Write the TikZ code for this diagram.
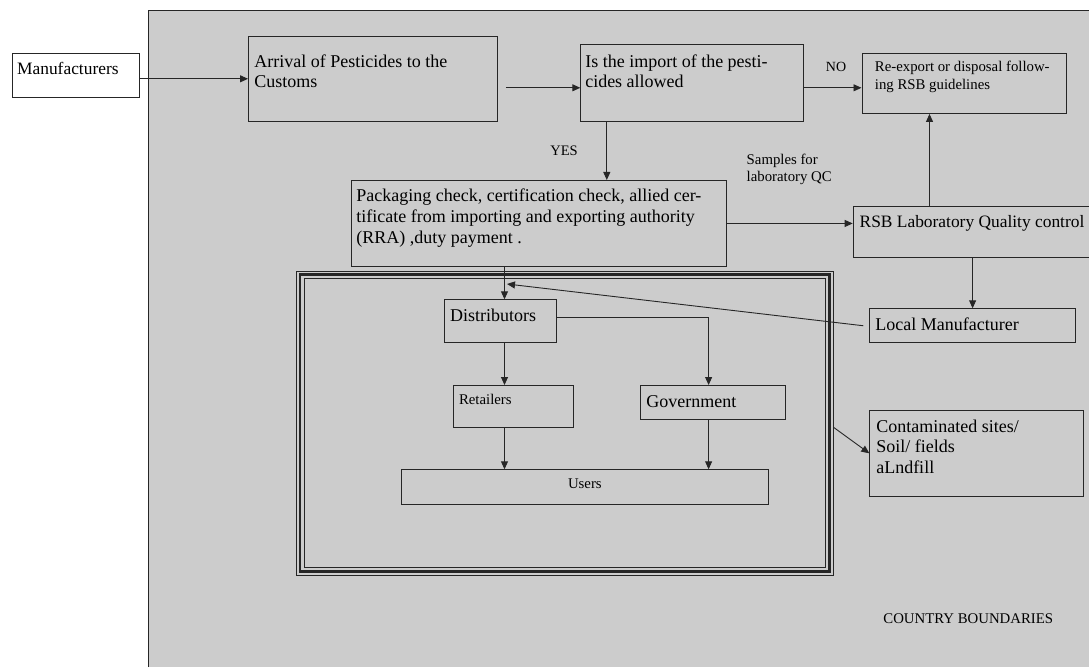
\documentclass[tikz,border=0pt]{standalone}
\usepackage{fontspec}
\setmainfont{Liberation Serif}
\usetikzlibrary{arrows.meta,positioning,calc}
\definecolor{Panel}{HTML}{CCCCCC}
\definecolor{Ink}{HTML}{262626}
\newcommand\cell[4]{\parbox[t][#2pt][t]{#1pt}{\raggedright\rule{0pt}{#3pt}#4}}

\begin{document}
\begin{tikzpicture}[x=1pt,y=-1pt,>={Triangle[length=8pt,width=7pt]},
  stage/.style={draw=Ink,fill=Panel,line width=0.9pt,anchor=north west,inner ysep=0pt,inner xsep=5.5pt,font=\fontsize{18}{20.8}\selectfont},
  small/.style={font=\fontsize{14.8}{18.3}\selectfont},
  note/.style={inner sep=0pt,align=left,font=\fontsize{14.8}{17}\selectfont},
  flow/.style={->,Ink,line width=0.9pt}]
  \useasboundingbox (0,0) rectangle (1089,671);
  \clip (0,0) rectangle (1089,671);
  \fill[white] (0,0) rectangle (1089,671);
  \fill[Panel] (148,10) rectangle (1100,667);
  \draw[Ink,line width=0.9pt] (148,667) -- (148,10) -- (1100,10);

  \node[stage,fill=white,inner xsep=5pt,font=\fontsize{17.4}{20.8}\selectfont] (makers) at (11.7,52.7) {\cell{117}{44}{21.5}{Manufacturers}};
  \node[stage,inner xsep=6pt] (arrival) at (248,36) {\cell{237}{84.7}{30.7}{Arrival of Pesticides to the\\Customs}};
  \node[stage,inner xsep=4.5pt] (allowed) at (580.3,44) {\cell{213.3}{76.7}{22.7}{Is the import of the pesti-\\cides allowed}};
  \node[stage,small,inner xsep=13pt] (reexport) at (861.5,53) {\cell{178.5}{60}{18}{Re-export or disposal follow-\\ing RSB guidelines}};
  \node[stage,inner xsep=5pt] (checks) at (351,180) {\cell{365}{86}{21.5}{Packaging check, certification check, allied cer-\\tificate from importing and exporting authority\\(RRA) ,duty payment .}};
  \node[stage,inner xsep=6.5pt,font=\fontsize{17.4}{20.8}\selectfont] (lab) at (852.7,206) {\cell{244}{50.7}{21.3}{RSB Laboratory Quality control}};
  \node[stage,inner xsep=5.7pt] (localmf) at (869.3,308.3) {\cell{194.3}{34}{21.7}{Local Manufacturer}};

  % inner market frame
  \node[draw=Ink,line width=0.7pt,anchor=north west,minimum width=536.7,minimum height=304.3,inner sep=0pt] (market) at (296,270.7) {};
  \draw[Ink,line width=2.6pt] ($(market.north west)+(4,4)$) rectangle ($(market.south east)+(-4,-4)$);
  \draw[Ink,line width=0.7pt] ($(market.north west)+(8,8)$) rectangle ($(market.south east)+(-8,-8)$);

  \node[stage,inner xsep=5.3pt] (distrib) at (444.3,299.3) {\cell{101.1}{43}{22}{Distributors}};
  \node[stage,small,inner xsep=5.4pt] (retail) at (453.2,385) {\cell{108.9}{41.7}{19}{Retailers}};
  \node[stage,inner xsep=6pt] (govt) at (640,385) {\cell{133.4}{34}{21.7}{Government}};
  \node[stage,small,inner xsep=0pt] (users) at (401.4,469.3) {\cell{366.1}{35}{19}{\centering Users}};
  \node[stage,inner xsep=6.5pt] (sites) at (869.3,410) {\cell{200.4}{85.7}{21.7}{Contaminated sites/\\Soil/ fields\\aLndfill}};

  \node[note,font=\fontsize{14}{16}\selectfont] (nolbl) at (836,66.5) {NO};
  \node[note,font=\fontsize{14.5}{16}\selectfont] (yeslbl) at (564,151) {YES};
  \node[note,anchor=west] (samples) at (746.5,169.5) {Samples for\\laboratory QC};
  \node[note] (border) at (968.3,618.3) {COUNTRY BOUNDARIES};

  \coordinate (nostart) at ([yshift=-5pt]allowed.east);
  \coordinate (yesdrop) at ([xshift=26.5pt]allowed.south west);
  \coordinate (labup) at ([xshift=68pt]reexport.south west);
  \coordinate (inlet) at (507,284);
  \coordinate (spine) at (504.5,0);
  \coordinate (govline) at (708.6,0);

  \draw[flow] (makers.east |- arrival.west) -- (arrival.west);
  \draw[flow] ([shift={(8pt,-9pt)}]arrival.east) -- ([yshift=-5pt]allowed.west);
  \draw[flow] (nostart) -- (nostart -| reexport.west);
  \draw[flow] (yesdrop) -- (yesdrop |- checks.north);
  \draw[flow] (checks.east) -- (checks.east -| lab.west);
  \draw[flow] (labup |- lab.north) -- (labup);
  \draw[flow] (localmf.north |- lab.south) -- (localmf.north);
  \draw[flow] ([xshift=-6pt]localmf.west) -- (inlet);
  \draw[flow] (spine |- checks.south) -- (spine |- distrib.north);
  \draw[flow] (spine |- distrib.south) -- (spine |- retail.north);
  \draw[flow] (spine |- retail.south) -- (spine |- users.north);
  \draw[flow] ([yshift=3.5pt]distrib.east) -| (govline |- govt.north);
  \draw[flow] (govline |- govt.south) -- (govline |- users.north);
  \draw[flow] ([yshift=-4pt]market.east) -- (sites.west);
\end{tikzpicture}
\end{document}
